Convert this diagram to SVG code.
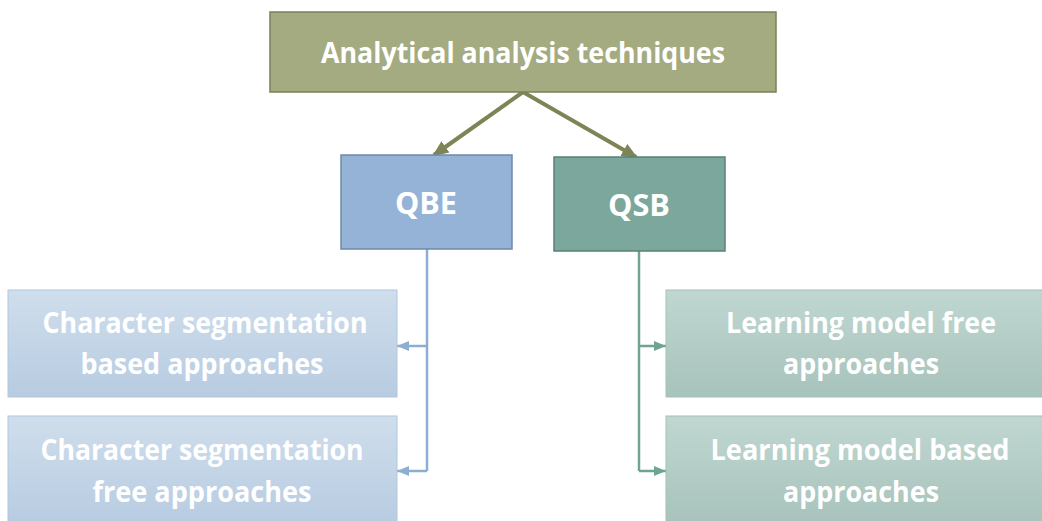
<svg xmlns="http://www.w3.org/2000/svg" width="1042" height="521" viewBox="0 0 1042 521">
  <style>
    .t { font-family: "Open Sans", "Liberation Sans", sans-serif; font-weight: bold; fill: #ffffff; text-anchor: middle; }
    .big { font-size: 28px; }
    .lbl { font-size: 28px; }
  </style>
  <defs>
    <linearGradient id="gBlue" x1="0" y1="0" x2="0" y2="1">
      <stop offset="0" stop-color="#CFDEEC"/>
      <stop offset="1" stop-color="#B7CBE1"/>
    </linearGradient>
    <linearGradient id="gGreen" x1="0" y1="0" x2="0" y2="1">
      <stop offset="0" stop-color="#C0D7D1"/>
      <stop offset="1" stop-color="#A7C3BB"/>
    </linearGradient>
    <marker id="aOlive" markerUnits="userSpaceOnUse" markerWidth="16" markerHeight="16" viewBox="0 0 16 16" refX="14" refY="8" orient="auto">
      <path d="M0,1 L16,8 L0,15 Z" fill="#7E8455"/>
    </marker>
    <marker id="aBlue" markerUnits="userSpaceOnUse" markerWidth="12" markerHeight="12" viewBox="0 0 12 12" refX="12" refY="6" orient="auto">
      <path d="M0,1 L12,6 L0,11 Z" fill="#8DAED3"/>
    </marker>
    <marker id="aGreen" markerUnits="userSpaceOnUse" markerWidth="12" markerHeight="12" viewBox="0 0 12 12" refX="12" refY="6" orient="auto">
      <path d="M0,1 L12,6 L0,11 Z" fill="#6FA393"/>
    </marker>
  </defs>

  <g id="connectors">
    <line x1="523" y1="92" x2="434" y2="155" stroke="#7E8455" stroke-width="4" marker-end="url(#aOlive)"/>
    <line x1="523" y1="92" x2="636" y2="157" stroke="#7E8455" stroke-width="4" marker-end="url(#aOlive)"/>
    <path d="M427,249 V471" fill="none" stroke="#8DAED3" stroke-width="2.5"/>
    <line x1="427" y1="346" x2="397" y2="346" stroke="#8DAED3" stroke-width="2.5" marker-end="url(#aBlue)"/>
    <line x1="427" y1="471" x2="397" y2="471" stroke="#8DAED3" stroke-width="2.5" marker-end="url(#aBlue)"/>
    <path d="M639,251 V471" fill="none" stroke="#6FA393" stroke-width="2.5"/>
    <line x1="639" y1="346" x2="666" y2="346" stroke="#6FA393" stroke-width="2.5" marker-end="url(#aGreen)"/>
    <line x1="639" y1="471" x2="666" y2="471" stroke="#6FA393" stroke-width="2.5" marker-end="url(#aGreen)"/>
  </g>

  <g id="root">
    <rect x="270" y="12" width="506" height="80" fill="#A4AB80" stroke="#7A8059" stroke-width="1.5"/>
    <text class="t big" x="523" y="63" textLength="404" lengthAdjust="spacingAndGlyphs">Analytical analysis techniques</text>
  </g>

  <g id="qbe">
    <rect x="341" y="155" width="171" height="94" fill="#95B3D7" stroke="#6E89A8" stroke-width="1.5"/>
    <text class="t" x="426" y="214" font-size="31" textLength="62" lengthAdjust="spacingAndGlyphs">QBE</text>
  </g>

  <g id="qsb">
    <rect x="554" y="157" width="171" height="94" fill="#7BA79C" stroke="#5A8076" stroke-width="1.5"/>
    <text class="t" x="639" y="216" font-size="31" textLength="62" lengthAdjust="spacingAndGlyphs">QSB</text>
  </g>

  <g id="csb">
    <rect x="8" y="290" width="389" height="107" fill="url(#gBlue)" stroke="#B0C7DF" stroke-width="1"/>
    <text class="t lbl" x="205" y="333" textLength="325" lengthAdjust="spacingAndGlyphs">Character segmentation</text>
    <text class="t lbl" x="202" y="374" textLength="243" lengthAdjust="spacingAndGlyphs">based approaches</text>
  </g>

  <g id="csf">
    <rect x="8" y="416" width="389" height="110" fill="url(#gBlue)" stroke="#B0C7DF" stroke-width="1"/>
    <text class="t lbl" x="202" y="460" textLength="323" lengthAdjust="spacingAndGlyphs">Character segmentation</text>
    <text class="t lbl" x="202" y="502" textLength="219" lengthAdjust="spacingAndGlyphs">free approaches</text>
  </g>

  <g id="lmf">
    <rect x="666" y="290" width="390" height="107" fill="url(#gGreen)" stroke="#A2C1B8" stroke-width="1"/>
    <text class="t lbl" x="861" y="333" textLength="270" lengthAdjust="spacingAndGlyphs">Learning model free</text>
    <text class="t lbl" x="861" y="374" textLength="156" lengthAdjust="spacingAndGlyphs">approaches</text>
  </g>

  <g id="lmb">
    <rect x="666" y="416" width="390" height="110" fill="url(#gGreen)" stroke="#A2C1B8" stroke-width="1"/>
    <text class="t lbl" x="860" y="460" textLength="299" lengthAdjust="spacingAndGlyphs">Learning model based</text>
    <text class="t lbl" x="861" y="502" textLength="156" lengthAdjust="spacingAndGlyphs">approaches</text>
  </g>
</svg>
